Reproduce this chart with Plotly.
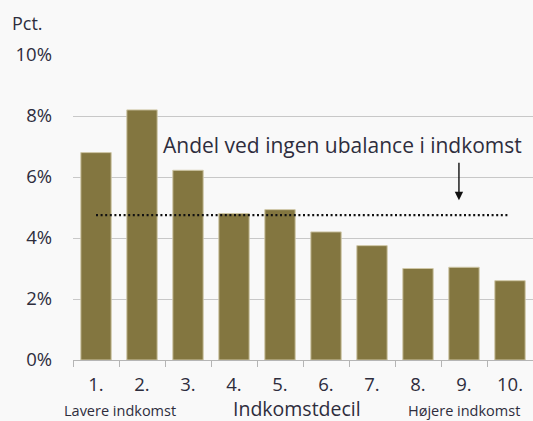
import plotly.graph_objects as go

categories = ["1.", "2.", "3.", "4.", "5.", "6.", "7.", "8.", "9.", "10."]
shares = [6.8, 8.2, 6.22, 4.8, 4.93, 4.2, 3.75, 3.0, 3.04, 2.6]
balance_share = 4.75
y_ticks = [0, 2, 4, 6, 8, 10]
y_ticklabels = ["0%", "2%", "4%", "6%", "8%", "10%"]

FONT = "Open Sans"
TXT = "#2e2d3d"

fig = go.Figure()
fig.add_trace(go.Bar(
    x=categories, y=shares,
    marker=dict(color="#837640", line=dict(color="#cfc7a6", width=1)),
    width=0.66, showlegend=False, hoverinfo="skip",
))
fig.add_trace(go.Scatter(
    x=[categories[0], categories[-1]], y=[balance_share, balance_share],
    mode="lines", line=dict(color="#111111", width=2.2, dash="2px,2.6px"),
    showlegend=False, hoverinfo="skip",
))

fig.add_annotation(x=5.35, y=7.04, xref="x", yref="y",
                   text="Andel ved ingen ubalance i indkomst", showarrow=False,
                   font=dict(family=FONT, size=21, color=TXT),
                   xanchor="center", yanchor="middle")
fig.add_annotation(x=7.89, y=5.24, xref="x", yref="y", text="",
                   showarrow=True, ax=0, ay=-39, arrowhead=2, arrowsize=1.2,
                   arrowwidth=1.4, arrowcolor="#111111")

fig.add_annotation(x=-0.136, y=1.106, xref="paper", yref="paper", text="Pct.",
                   showarrow=False, xanchor="left", yanchor="middle",
                   font=dict(family=FONT, size=18, color=TXT))
fig.add_annotation(x=0.102, y=-0.167, xref="paper", yref="paper", text="Lavere indkomst",
                   showarrow=False, xanchor="center", yanchor="middle",
                   font=dict(family=FONT, size=14.5, color=TXT))
fig.add_annotation(x=0.487, y=-0.159, xref="paper", yref="paper", text="Indkomstdecil",
                   showarrow=False, xanchor="center", yanchor="middle",
                   font=dict(family=FONT, size=19.5, color=TXT))
fig.add_annotation(x=0.850, y=-0.167, xref="paper", yref="paper", text="Højere indkomst",
                   showarrow=False, xanchor="center", yanchor="middle",
                   font=dict(family=FONT, size=14.5, color=TXT))

fig.update_layout(
    width=533, height=421,
    margin=dict(l=72.7, r=0, t=54.5, b=61),
    paper_bgcolor="#f9f9f9", plot_bgcolor="#f9f9f9",
    bargap=0.34,
    font=dict(family=FONT, color=TXT),
)
fig.update_xaxes(
    type="category", tickson="boundaries", ticks="outside", ticklen=6,
    tickcolor="#b5b5b5", tickwidth=1.3,
    showline=True, linecolor="#b5b5b5", linewidth=1.3,
    showgrid=False, tickfont=dict(family=FONT, size=18.5, color=TXT),
    ticklabelstandoff=8,
    range=[-0.5, 9.5],
)
fig.update_yaxes(
    range=[0, 10], tickvals=y_ticks, ticktext=y_ticklabels,
    showgrid=True, gridcolor="#c8c8c8", gridwidth=1.3,
    zeroline=False, ticks="", ticklabelstandoff=20,
    tickfont=dict(family=FONT, size=18.5, color=TXT),
)
fig.write_html(
    "out.html",
    config={"displayModeBar": False},
    post_script="document.body.style.margin='0';document.body.style.overflow='hidden';",
)
